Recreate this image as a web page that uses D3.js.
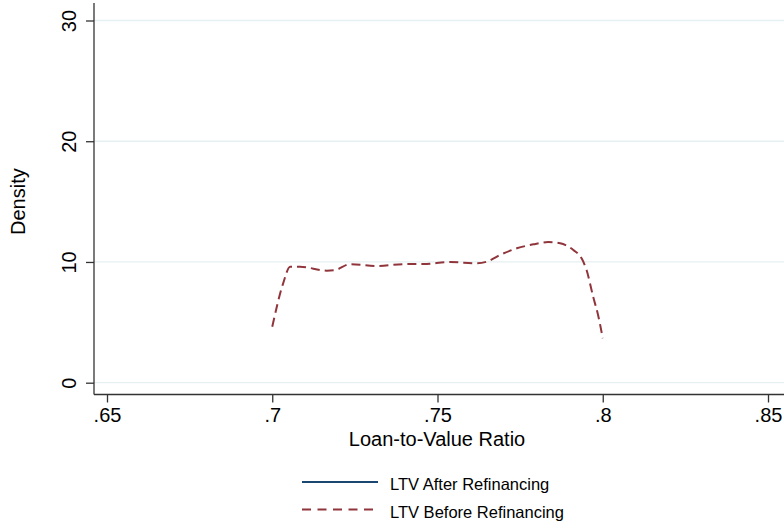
<!DOCTYPE html>
<html>
<head>
<meta charset="utf-8">
<script src="https://cdn.jsdelivr.net/npm/d3@7"></script>
<style>
  body { margin: 0; background: #fff; }
  text { font-family: "Liberation Sans", Arial, Helvetica, sans-serif; fill: #000; }
</style>
</head>
<body>
<div class="chart"></div>
<script>
// kernel density of LTV before refinancing
const ltvBefore = [0.7000, 0.7033, 0.7054, 0.7084, 0.7165, 0.7190, 0.7235, 0.7316, 0.7407, 0.7457,
  0.7538, 0.7619, 0.7649, 0.7689, 0.7740, 0.7790, 0.7835, 0.7871, 0.7911, 0.7936, 0.7951, 0.7971, 0.7987, 0.8000];
const densityBefore = [4.64, 8.23, 9.61, 9.61, 9.28, 9.33, 9.81, 9.67, 9.83, 9.83,
  10.0, 9.89, 10.02, 10.58, 11.13, 11.46, 11.65, 11.55, 10.99, 10.3, 9.33, 7.12, 5.47, 3.68];
// the "after" series does not show in the plotted range
const ltvAfter = [];
const densityAfter = [];

const xTicks = [0.65, 0.7, 0.75, 0.8, 0.85];
const yTicks = [0, 10, 20, 30];
const seriesNames = ['LTV After Refinancing', 'LTV Before Refinancing'];
const seriesColors = ['#1a476f', '#90353b'];
const seriesDash = [null, '9,5'];

const width = 784;
const height = 521;

const svg = d3.select('.chart')
  .append('svg')
  .attr('width', width)
  .attr('height', height);

const xScale = d3.scaleLinear().domain([0.65, 0.85]).range([107, 768]);
const yScale = d3.scaleLinear().domain([0, 30]).range([382.7, 20.5]);

const plotLeft = 94, plotRight = 784, plotTop = 3, plotBottom = 394.5;

// grid lines
svg.append('g')
  .selectAll('line')
  .data(yTicks)
  .join('line')
  .attr('x1', plotLeft)
  .attr('x2', plotRight)
  .attr('y1', (d) => yScale(d))
  .attr('y2', (d) => yScale(d))
  .attr('stroke', '#e6eff2')
  .attr('stroke-width', 1.3);

// axes
const fmt = (d) => String(d).replace(/^0/, '');
const xAxis = d3.axisBottom(xScale).tickValues(xTicks).tickFormat(fmt).tickSize(8).tickPadding(4);
const yAxis = d3.axisLeft(yScale).tickValues(yTicks).tickFormat(d3.format('d')).tickSize(8).tickPadding(0);

const xAxisGroup = svg.append('g')
  .attr('transform', 'translate(0,' + plotBottom + ')')
  .call(xAxis);
xAxisGroup.select('.domain').remove();
xAxisGroup.selectAll('line').attr('stroke', '#333').attr('stroke-width', 1.3);
xAxisGroup.selectAll('text')
  .attr('font-size', 20)
  .attr('font-family', '"Liberation Sans", Arial, sans-serif')
  .attr('fill', '#000')
  .attr('dy', '0.78em');

const yAxisGroup = svg.append('g')
  .attr('transform', 'translate(' + plotLeft + ',0)')
  .call(yAxis);
yAxisGroup.select('.domain').remove();
yAxisGroup.selectAll('line').attr('stroke', '#333').attr('stroke-width', 1.3);
yAxisGroup.selectAll('text')
  .attr('font-size', 20)
  .attr('font-family', '"Liberation Sans", Arial, sans-serif')
  .attr('fill', '#000')
  .attr('text-anchor', 'middle')
  .attr('x', 0)
  .attr('dy', 0)
  .attr('transform', 'translate(-18,0) rotate(-90)');

svg.append('line')
  .attr('x1', plotLeft).attr('x2', plotRight)
  .attr('y1', plotBottom).attr('y2', plotBottom)
  .attr('stroke', '#333').attr('stroke-width', 1.3);
svg.append('line')
  .attr('x1', plotLeft).attr('x2', plotLeft)
  .attr('y1', plotTop).attr('y2', plotBottom)
  .attr('stroke', '#333').attr('stroke-width', 1.3);

// axis titles
svg.append('text')
  .attr('x', (plotLeft + plotRight) / 2 - 2)
  .attr('y', 446)
  .attr('text-anchor', 'middle')
  .attr('font-size', 20)
  .text('Loan-to-Value Ratio');

svg.append('text')
  .attr('transform', 'translate(24.5,' + (yScale(0) + yScale(30)) / 2 + ') rotate(-90)')
  .attr('text-anchor', 'middle')
  .attr('font-size', 20)
  .text('Density');

// density lines
const line = d3.line()
  .x((d) => xScale(d[0]))
  .y((d) => yScale(d[1]))
  .curve(d3.curveMonotoneX);

const series = [
  d3.zip(ltvAfter, densityAfter),
  d3.zip(ltvBefore, densityBefore),
];

svg.append('g')
  .selectAll('path')
  .data(series)
  .join('path')
  .attr('d', line)
  .attr('fill', 'none')
  .attr('stroke', (d, i) => seriesColors[i])
  .attr('stroke-width', 2)
  .attr('stroke-dasharray', (d, i) => seriesDash[i]);

// legend
const legend = svg.append('g')
  .selectAll('g')
  .data(seriesNames)
  .join('g')
  .attr('transform', (d, i) => 'translate(0,' + (482 + i * 27.5) + ')');

legend.append('line')
  .attr('x1', 302).attr('x2', 378)
  .attr('stroke', (d, i) => seriesColors[i])
  .attr('stroke-width', 1.8)
  .attr('stroke-dasharray', (d, i) => (i === 1 ? '9,6.5' : null));

legend.append('text')
  .attr('x', 390)
  .attr('y', 8)
  .attr('font-size', 16.5)
  .text((d) => d);
</script>
</body>
</html>
